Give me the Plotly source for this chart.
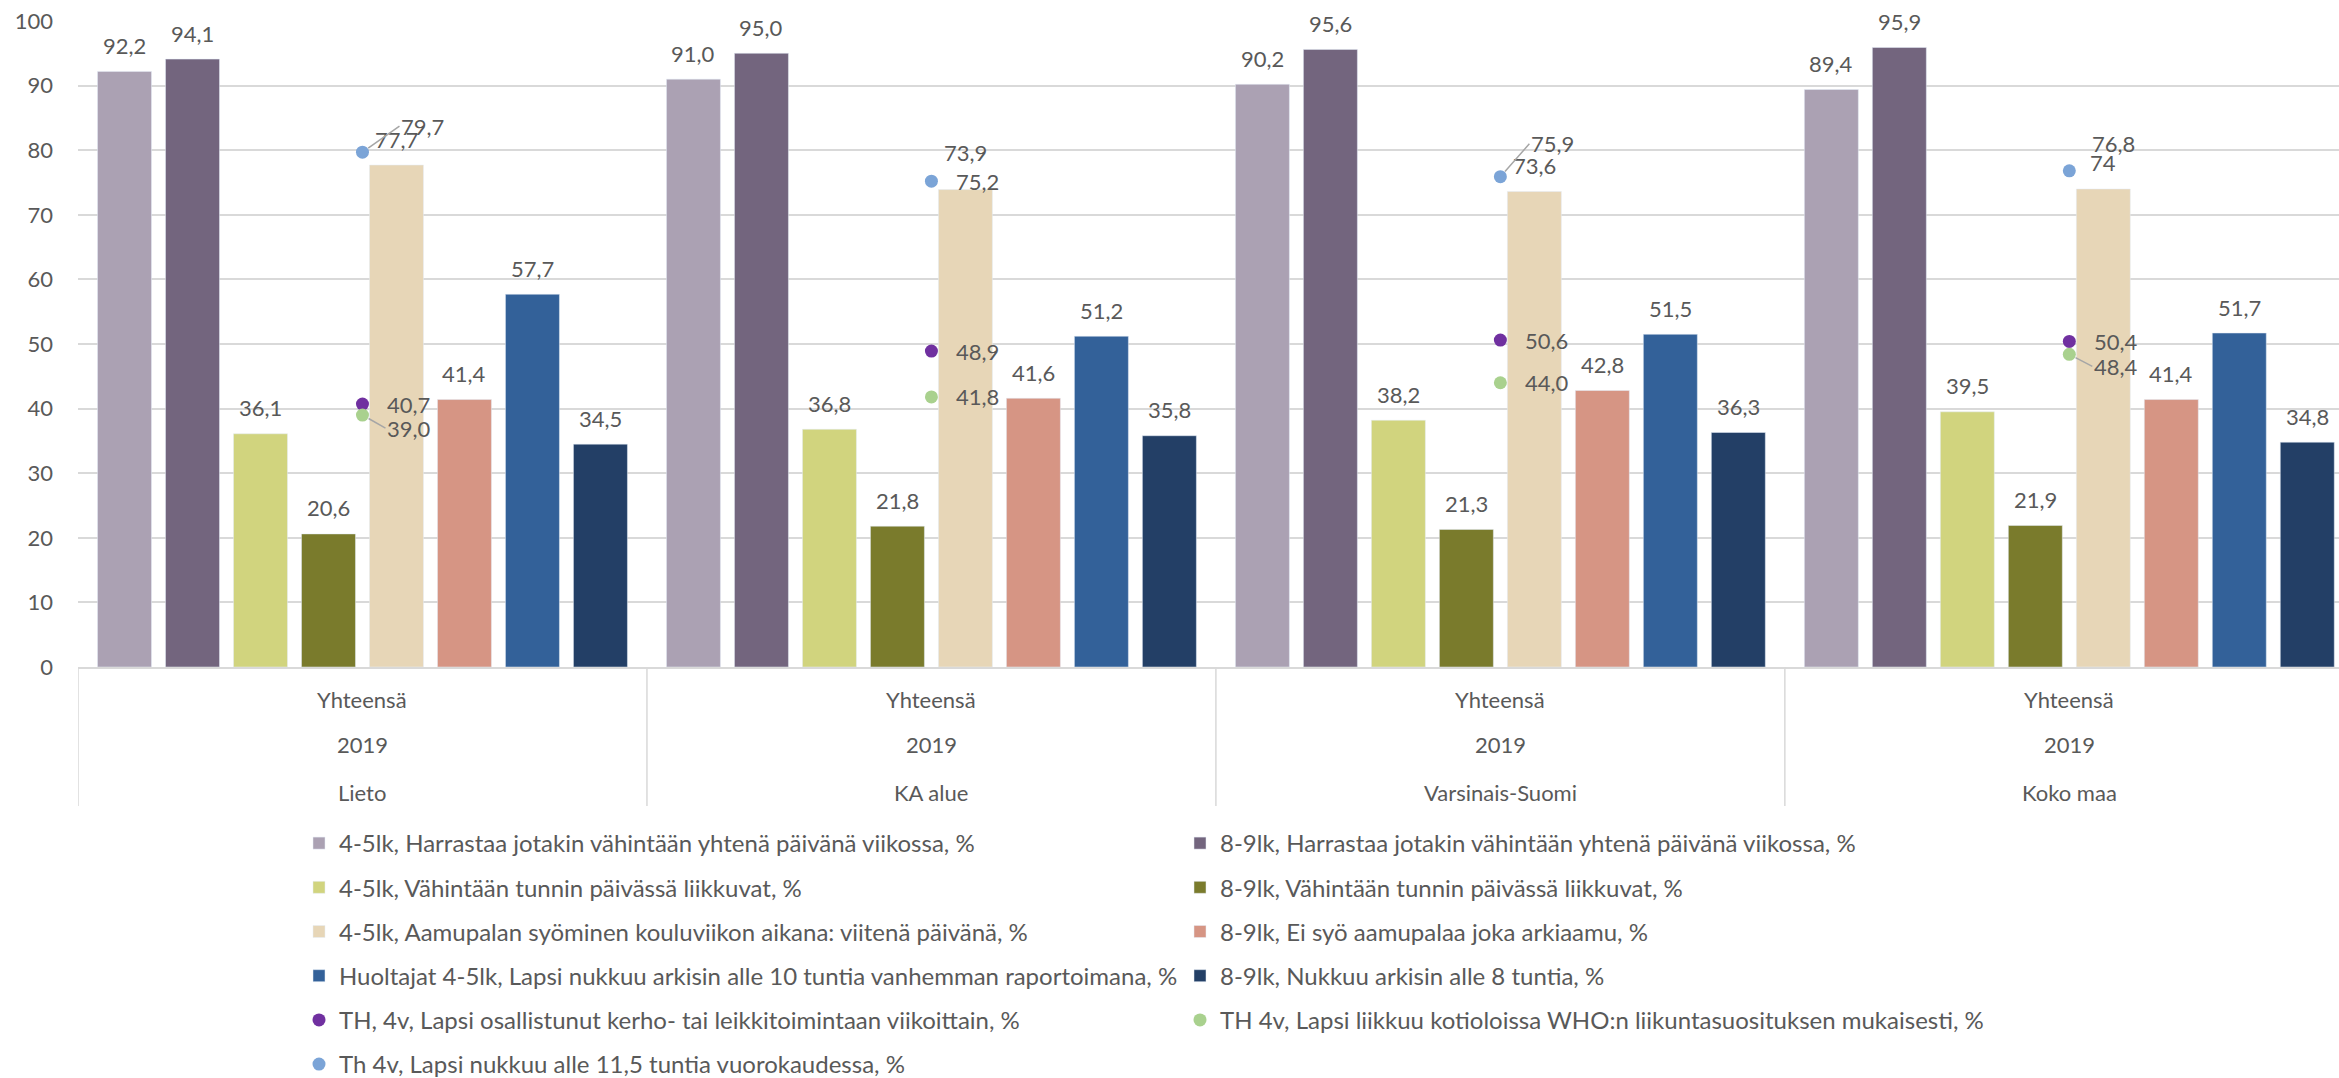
import plotly.graph_objects as go

# kategoriat (3-tasoinen x-akseli)
alueet = ["Lieto", "KA alue", "Varsinais-Suomi", "Koko maa"]
ryhma = "Yhteensä"
vuosi = "2019"

# pylväät
harrastaa_45 = [92.2, 91.0, 90.2, 89.4]
harrastaa_89 = [94.1, 95.0, 95.6, 95.9]
liikkuvat_45 = [36.1, 36.8, 38.2, 39.5]
liikkuvat_89 = [20.6, 21.8, 21.3, 21.9]
aamupala_45 = [77.7, 73.9, 73.6, 74]
ei_aamupalaa_89 = [41.4, 41.6, 42.8, 41.4]
huoltajat_nukkuu_45 = [57.7, 51.2, 51.5, 51.7]
nukkuu_89 = [34.5, 35.8, 36.3, 34.8]

# pisteet (TH 4v)
kerho_4v = [40.7, 48.9, 50.6, 50.4]
who_4v = [39.0, 41.8, 44.0, 48.4]
nukkuu_4v = [79.7, 75.2, 75.9, 76.8]

bar_series = [
    ("4-5lk, Harrastaa jotakin vähintään yhtenä päivänä viikossa, %", harrastaa_45, "#ABA1B3", "legend"),
    ("8-9lk, Harrastaa jotakin vähintään yhtenä päivänä viikossa, %", harrastaa_89, "#73657E", "legend2"),
    ("4-5lk, Vähintään tunnin päivässä liikkuvat, %", liikkuvat_45, "#D1D47E", "legend"),
    ("8-9lk, Vähintään tunnin päivässä liikkuvat, %", liikkuvat_89, "#7A7B2C", "legend2"),
    ("4-5lk, Aamupalan syöminen kouluviikon aikana: viitenä päivänä, %", aamupala_45, "#E7D6B7", "legend"),
    ("8-9lk, Ei syö aamupalaa joka arkiaamu, %", ei_aamupalaa_89, "#D69584", "legend2"),
    ("Huoltajat 4-5lk, Lapsi nukkuu arkisin alle 10 tuntia vanhemman raportoimana, %", huoltajat_nukkuu_45, "#336199", "legend"),
    ("8-9lk, Nukkuu arkisin alle 8 tuntia, %", nukkuu_89, "#233F66", "legend2"),
]
dot_series = [
    ("TH, 4v, Lapsi osallistunut kerho- tai leikkitoimintaan viikoittain, %", kerho_4v, "#7030A0", "legend"),
    ("TH 4v, Lapsi liikkuu kotioloissa WHO:n liikuntasuosituksen mukaisesti, %", who_4v, "#A9D18E", "legend2"),
    ("Th 4v, Lapsi nukkuu alle 11,5 tuntia vuorokaudessa, %", nukkuu_4v, "#7BA4D7", "legend"),
]

# tunnisteiden siirrot kuten alkuperäisessä
bar_label_moves = {(4, 1): 11}  # (sarja, alue): lisänosto px
label_moves = {  # (sarja, alue): (dx, dy px, johtoviiva)
    (2, 0): (37, -26, True),
    (1, 0): (23, 13, True),
    (2, 2): (29, -33, True),
    (2, 3): (21, -27, False),
    (1, 3): (23, 12, True),
}

FONT = "Lato"
TXT = "#595959"
BARGAP = 0.044


def fmt(v):
    if isinstance(v, int):
        return str(v)
    return f"{v:.1f}".replace(".", ",")


fig = go.Figure()
annotations = []

n = len(bar_series)
for j, (name, vals, color, leg) in enumerate(bar_series):
    fig.add_trace(go.Bar(
        x=alueet, y=vals, name=name, marker_color=color,
        legend=leg, legendgroup=name, hoverinfo="y",
    ))
    for i, v in enumerate(vals):
        annotations.append(dict(
            x=i + (j - (n - 1) / 2) * (1 - BARGAP) / n, y=v, xref="x", yref="y",
            text=fmt(v), showarrow=False, yanchor="middle",
            yshift=26 + bar_label_moves.get((j, i), 0),
            font=dict(family=FONT, size=22, color=TXT),
        ))

for k, (name, vals, color, leg) in enumerate(dot_series):
    fig.add_trace(go.Scatter(
        x=alueet, y=vals, name=name, mode="markers",
        marker=dict(color=color, size=13), legend=leg, legendgroup=name,
        cliponaxis=False,
    ))
    for i, v in enumerate(vals):
        dx, dy, line = label_moves.get((k, i), (23, 0, False))
        annotations.append(dict(
            x=i, y=v, xref="x", yref="y", text=fmt(v),
            showarrow=True, arrowhead=0, arrowwidth=1.5, standoff=7,
            arrowcolor="#A6A6A6" if line else "rgba(0,0,0,0)",
            ax=dx, ay=dy, xanchor="left", yanchor="middle",
            font=dict(family=FONT, size=22, color=TXT),
        ))

# monitasoiset kategoriatunnisteet akselin alla
for i, alue in enumerate(alueet):
    for txt, off in [(ryhma, 32), (vuosi, 77), (alue, 125)]:
        annotations.append(dict(
            x=i, y=0, xref="x", yref="paper", text=txt, showarrow=False,
            yanchor="middle", yshift=-off,
            font=dict(family=FONT, size=22, color=TXT),
        ))

shapes = [
    dict(type="line", xref="x", yref="paper", x0=i - 0.5, x1=i - 0.5,
         y0=0, y1=-139 / 646, line=dict(color="#D9D9D9", width=1.5))
    for i in range(len(alueet) + 1)
]

legend_common = dict(
    orientation="v", xref="container", yref="container", yanchor="top",
    xanchor="left", traceorder="grouped", tracegroupgap=10,
    font=dict(family=FONT, size=24, color=TXT), bgcolor="rgba(0,0,0,0)",
)

fig.update_layout(
    width=2339, height=1078,
    margin=dict(l=78, r=0, t=21, b=411, autoexpand=False),
    barmode="group", bargap=BARGAP, bargroupgap=0.206,
    plot_bgcolor="white", paper_bgcolor="white",
    font=dict(family=FONT, size=22, color=TXT),
    showlegend=True,
    legend=dict(x=299 / 2339, y=1 - 821 / 1078, **legend_common),
    legend2=dict(x=1180 / 2339, y=1 - 821 / 1078, **legend_common),
    annotations=annotations,
    shapes=shapes,
)
fig.update_xaxes(
    type="category", range=[-0.5, 3.474], showticklabels=False,
    showgrid=False, showline=True, linecolor="#D9D9D9", linewidth=1.5,
    ticks="", fixedrange=True,
)
fig.update_yaxes(
    range=[0, 100], dtick=10, showgrid=True, gridcolor="#D9D9D9", gridwidth=1.5,
    zeroline=False, showline=False, ticks="", ticklabelstandoff=24,
    tickfont=dict(family=FONT, size=22, color=TXT), fixedrange=True,
)

fig.write_html("out.html", config={"displayModeBar": False},
               post_script="document.body.style.margin='0';document.body.style.overflow='hidden';")
